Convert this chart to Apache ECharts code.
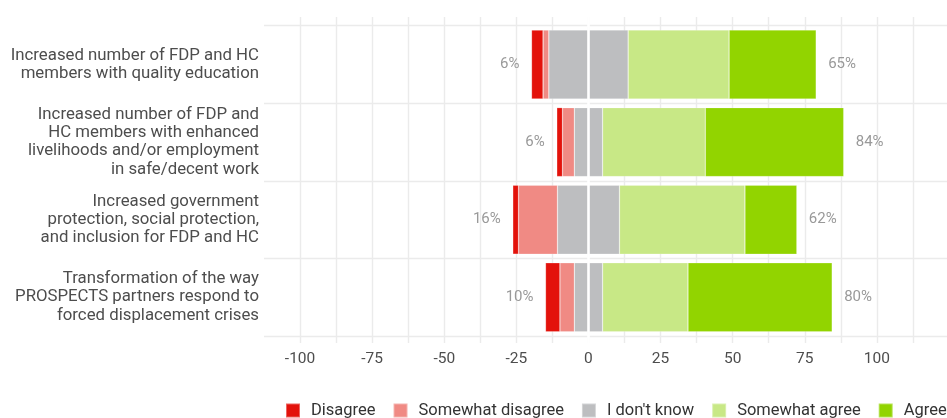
<!DOCTYPE html>
<html>
<head>
<meta charset="utf-8">
<script src="https://cdn.jsdelivr.net/npm/echarts@6/dist/echarts.min.js"></script>
<style>
  html, body { margin: 0; padding: 0; background: #ffffff; }
  #chart { width: 947px; height: 418px; }
</style>
</head>
<body>
<div id="chart"></div>
<script>
// Outcome statements (top to bottom)
const categories = [
  'Increased number of FDP and HC\nmembers with quality education',
  'Increased number of FDP and\nHC members with enhanced\nlivelihoods and/or employment\nin safe/decent work',
  'Increased government\nprotection, social protection,\nand inclusion for FDP and HC',
  'Transformation of the way\nPROSPECTS partners respond to\nforced displacement crises'
];

// Share of responses (%) per outcome
const disagree   = [4, 2, 2, 5];
const swDisagree = [2, 4.1, 13.5, 5];
const dontKnow   = [27.5, 9.8, 21.5, 9.8];
const swAgree    = [35, 35.6, 43.5, 29.6];
const agree      = [30.2, 48, 18, 50];

// Axis ticks
const xTicks = [-100, -75, -50, -25, 0, 25, 50, 75, 100];

const colors = {
  disagree: '#E3120B',
  swDisagree: '#F08A84',
  dontKnow: '#BDBEC0',
  swAgree: '#C8E886',
  agree: '#92D400'
};

const negSum = disagree.map((d, i) => Math.round(d + swDisagree[i]));
const posSum = agree.map((a, i) => Math.round(a + swAgree[i]));

const FONT = 'Roboto, "Noto Sans", sans-serif';
const gridLeft = 264, gridWidth = 685;

const barBase = {
  type: 'bar',
  stack: 'likert',
  xAxisIndex: 1,
  yAxisIndex: 1,
  barWidth: 69,
  itemStyle: { borderColor: 'rgba(255,255,255,0.35)', borderWidth: 0.6 },
  emphasis: { disabled: true }
};

const pctLabel = {
  fontFamily: FONT,
  fontSize: 15,
  color: '#999999'
};

const chart = echarts.init(document.getElementById('chart'), null, { renderer: 'canvas' });

chart.setOption({
  animation: false,
  backgroundColor: '#ffffff',
  textStyle: { fontFamily: FONT },
  grid: [
    { left: gridLeft, width: gridWidth, top: 17, height: 326, containLabel: false, outerBoundsMode: 'none' },
    { left: gridLeft, width: gridWidth, top: 25.7, height: 310.4, containLabel: false, outerBoundsMode: 'none' }
  ],
  xAxis: [
    {
      gridIndex: 0,
      type: 'value',
      min: -112.5,
      max: 125,
      interval: 12.5,
      axisLine: { show: false },
      axisTick: { show: false },
      axisLabel: {
        margin: 8,
        fontFamily: FONT,
        fontSize: 15.5,
        color: '#4d4d4d',
        formatter: v => (xTicks.indexOf(v) >= 0 ? String(v) : '')
      },
      splitLine: {
        show: true,
        showMinLine: false,
        showMaxLine: false,
        lineStyle: { color: '#ebebeb', width: 1.4 }
      }
    },
    {
      gridIndex: 1,
      type: 'value',
      min: -112.5,
      max: 125,
      interval: 12.5,
      show: false,
      splitLine: { show: false }
    }
  ],
  yAxis: [
    {
      gridIndex: 0,
      type: 'value',
      min: 0,
      max: 1,
      show: false,
      splitLine: { show: false }
    },
    {
      gridIndex: 1,
      type: 'category',
      data: categories,
      inverse: true,
      axisLine: { show: false },
      axisTick: { show: false },
      axisLabel: {
        margin: 5,
        fontFamily: FONT,
        fontSize: 16.8,
        lineHeight: 18.3,
        color: '#4d4d4d',
        align: 'right',
        padding: [5, 0, 0, 0]
      },
      splitLine: { show: true, lineStyle: { color: '#ebebeb', width: 1.4 } }
    }
  ],
  legend: {
    left: 285,
    top: 402,
    width: 900,
    padding: 0,
    itemWidth: 14,
    itemHeight: 14,
    itemGap: 17,
    icon: 'rect',
    selectedMode: false,
    textStyle: { fontFamily: FONT, fontSize: 16.5, color: '#333333', padding: [0, 0, 0, 6] },
    data: ['Disagree', 'Somewhat disagree', "I don't know", 'Somewhat agree', 'Agree']
  },
  series: [
    Object.assign({}, barBase, {
      name: "I don't know",
      color: colors.dontKnow,
      data: dontKnow.map(v => -v / 2)
    }),
    Object.assign({}, barBase, {
      name: "I don't know",
      color: colors.dontKnow,
      data: dontKnow.map(v => v / 2)
    }),
    Object.assign({}, barBase, {
      name: 'Somewhat disagree',
      color: colors.swDisagree,
      data: swDisagree.map(v => -v)
    }),
    Object.assign({}, barBase, {
      name: 'Disagree',
      color: colors.disagree,
      data: disagree.map(v => -v),
      label: Object.assign({
        show: true,
        position: 'left',
        distance: 12,
        formatter: p => negSum[p.dataIndex] + '%'
      }, pctLabel)
    }),
    Object.assign({}, barBase, {
      name: 'Somewhat agree',
      color: colors.swAgree,
      data: swAgree
    }),
    Object.assign({}, barBase, {
      name: 'Agree',
      color: colors.agree,
      data: agree,
      label: Object.assign({
        show: true,
        position: 'right',
        distance: 12,
        formatter: p => posSum[p.dataIndex] + '%'
      }, pctLabel)
    }),
    {
      // white zero divider across the whole panel
      type: 'scatter',
      xAxisIndex: 0,
      yAxisIndex: 0,
      data: [],
      z: 5,
      silent: true,
      markLine: {
        silent: true,
        symbol: 'none',
        label: { show: false },
        lineStyle: { color: '#ffffff', width: 2.6, type: 'solid' },
        emphasis: { disabled: true },
        data: [{ xAxis: 0 }]
      }
    }
  ]
});
</script>
</body>
</html>
